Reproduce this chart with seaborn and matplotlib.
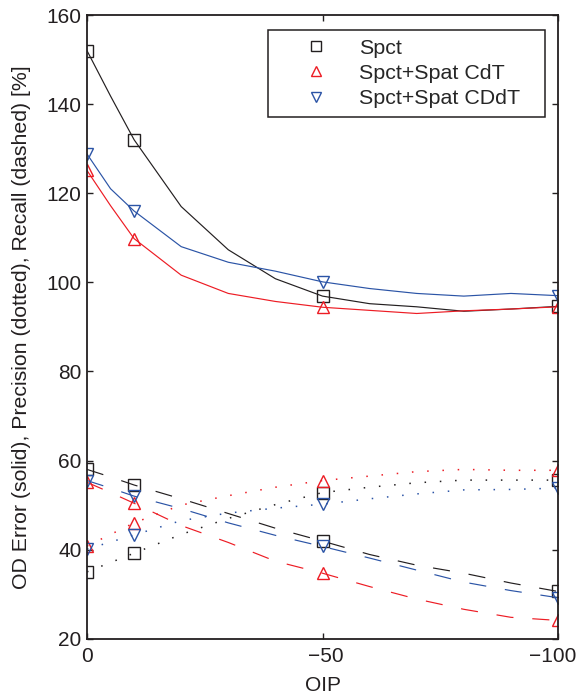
import matplotlib
matplotlib.use("Agg")
import matplotlib.pyplot as plt
import matplotlib.transforms as mtransforms
from matplotlib.lines import Line2D
import seaborn as sns
import pandas as pd

# ---- data ----
oip = [0, -5, -10, -20, -30, -40, -50, -60, -70, -80, -90, -100]
marker_idx = [0, 2, 6, 11]

labels = ["Spct", "Spct+Spat CdT", "Spct+Spat CDdT"]

od_spct = [152.0, 141.8, 132.0, 117.0, 107.3, 100.8, 96.9, 95.2, 94.5, 93.5, 94.0, 94.6]
od_cdt = [125.1, 117.2, 109.8, 101.6, 97.5, 95.7, 94.4, 93.7, 93.0, 93.6, 94.0, 94.5]
od_cddt = [128.8, 121.0, 116.0, 108.0, 104.5, 102.5, 100.1, 98.6, 97.5, 96.9, 97.5, 97.0]

prec_spct = [35.0, 37.1, 39.2, 43.4, 47.0, 50.1, 52.8, 54.0, 55.0, 55.6, 55.6, 55.6]
prec_cdt = [40.8, 43.4, 46.0, 50.0, 52.1, 54.0, 55.5, 56.5, 57.5, 58.0, 57.8, 57.8]
prec_cddt = [40.1, 41.7, 43.3, 46.5, 48.2, 49.3, 50.2, 51.4, 52.5, 53.4, 53.5, 53.8]

rec_spct = [58.0, 56.3, 54.5, 51.4, 48.1, 44.8, 41.9, 38.9, 36.5, 34.7, 32.5, 30.6]
rec_cdt = [55.1, 52.8, 50.4, 45.4, 41.6, 37.4, 34.7, 31.7, 28.9, 26.6, 24.8, 24.1]
rec_cddt = [55.5, 53.8, 52.0, 49.2, 46.0, 43.2, 40.7, 38.1, 35.4, 32.7, 30.8, 29.2]

xticks = [0, -50, -100]
xticklabels = ["0", "\u221250", "\u2212100"]
yticks = [20, 40, 60, 80, 100, 120, 140, 160]

# ---- style ----
sns.set_style("ticks")
plt.rcParams['font.family'] = ['Liberation Sans', 'DejaVu Sans']
FS = 15.0

colors = ['#231f20', '#ed1c24', '#2b54a6']
markers = ['s', '^', 'v']

fig = plt.figure(figsize=(5.77, 6.99), dpi=100)
ax = fig.add_axes([87/577, 1 - 638.7/699, (558-87)/577, (638.7-15)/699])

series = [
    (od_spct, od_cdt, od_cddt, '-', 0.85),
    (prec_spct, prec_cdt, prec_cddt, (0, (1.0, 9.0)), 1.1),
    (rec_spct, rec_cdt, rec_cddt, (0, (14.5, 16.0)), 0.85),
]

for group in series:
    ls = group[3]
    lw = group[4]
    for i in range(3):
        df = pd.DataFrame({"OIP": oip, "val": group[i]})
        sns.lineplot(data=df, x="OIP", y="val", ax=ax, sort=False, errorbar=None,
                     color=colors[i], linestyle=ls, linewidth=lw,
                     marker=markers[i], markevery=marker_idx, markersize=8,
                     markerfacecolor='none', markeredgecolor=colors[i],
                     markeredgewidth=1.0)

ax.set_xlim(0, -100)
ax.set_ylim(20, 160)
ax.set_xticks(xticks)
ax.set_xticklabels(xticklabels)
ax.set_yticks(yticks)
ax.tick_params(direction='in', length=4, width=1.0, labelsize=FS,
               top=True, right=True, colors='#231f20')
ax.tick_params(axis='y', pad=4)
ax.tick_params(axis='x', pad=6)
for s in ax.spines.values():
    s.set_visible(True)
    s.set_linewidth(1.3)
    s.set_color('#231f20')

# nudge edge tick labels like the reference
xl = ax.get_xticklabels()
xl[-1].set_transform(xl[-1].get_transform() +
                     mtransforms.ScaledTranslation(-5/100, 0, fig.dpi_scale_trans))
xl[1].set_transform(xl[1].get_transform() +
                    mtransforms.ScaledTranslation(3/100, 0, fig.dpi_scale_trans))

ax.set_xlabel("OIP", fontsize=FS, color='#231f20', labelpad=7)
ax.set_ylabel("OD Error (solid), Precision (dotted), Recall (dashed) [%]",
              fontsize=15.3, color='#231f20', labelpad=11)

handles = [Line2D([], [], linestyle='none', marker=markers[i], markersize=7,
                  markerfacecolor='none', markeredgecolor=colors[i],
                  markeredgewidth=1.0) for i in range(3)]
top_frac = (638.7 - 30) / 623.7
leg = ax.legend(handles, labels, loc='upper left',
                bbox_to_anchor=((268-87)/471, top_frac - 0.01, (545-268)/471, 0.01),
                mode='expand', borderaxespad=0, fontsize=15.4, frameon=True,
                fancybox=False, handlelength=3.7, handletextpad=0.15,
                borderpad=0.4, labelspacing=0.3)
leg.get_frame().set_edgecolor('#231f20')
leg.get_frame().set_linewidth(1.1)
leg.get_frame().set_facecolor('white')
leg.get_frame().set_alpha(1)

fig.savefig("out.png", dpi=100)
